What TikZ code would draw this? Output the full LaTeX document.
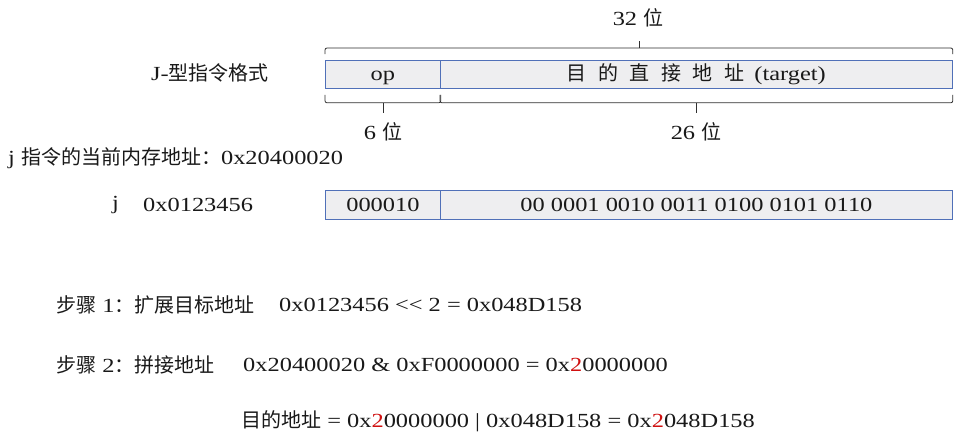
\documentclass[tikz,border=0pt]{standalone}
\usepackage{fontspec}
\usetikzlibrary{calc}
\setmainfont{Liberation Serif}[FakeStretch=1.22]
\newfontfamily\cjk{Noto Sans CJK SC}
\definecolor{boxfill}{HTML}{EEEEF0}
\definecolor{boxline}{HTML}{5070B8}
\definecolor{redtxt}{HTML}{D01010}
\definecolor{braceline}{HTML}{303030}
\tikzset{
  txt/.style={inner sep=0pt, font=\fontsize{20}{24}\selectfont, text=black!90},
  field/.style={draw=boxline, fill=boxfill, line width=0.8pt, minimum height=28pt, inner sep=0pt, text height=15pt, text depth=2pt, anchor=north west, font=\fontsize{20}{24}\selectfont, text=black!90},
  brace/.style={draw=braceline, line width=0.8pt, rounded corners=2pt},
}
\newcommand{\rd}[1]{{\color{redtxt}#1}}
\newcommand{\cg}{\hspace{11.5pt}}
\begin{document}
\begin{tikzpicture}[x=1pt,y=-1pt]
\fill[white] (0,0) rectangle (957,431);
\useasboundingbox (0,0) rectangle (957,431);

% format row
\node[field, minimum width=115pt] (op) at (325,60) {op};
\node[field, minimum width=512pt] (tg) at (440,60) {{\cjk 目\cg 的\cg 直\cg 接\cg 地\cg 址}\hspace{10pt}(target)};
\node[txt] (fmt) at (210,73) {J-{\cjk 型指令格式}};

% top brace
\coordinate (tl) at ([yshift=12pt]op.north west);
\coordinate (tr) at ([yshift=12pt]tg.north east);
\draw[brace] ([yshift=6pt]op.north west) -- (tl) -- (tr) -- ([yshift=6pt]tg.north east);
\coordinate (tc) at ($(tl)!0.5!(tr)$);
\draw[brace] (tc) -- ++(0,-7);
\node[txt] (b32) at (638,18) {32 {\cjk 位}};

% bottom braces
\draw[brace] ([yshift=-6pt]op.south west) -- ([yshift=-14pt]op.south west) -- ([yshift=-14pt]op.south east) -- ([yshift=-6pt]op.south east);
\draw[brace] ([yshift=-6pt]tg.south west) -- ([yshift=-14pt]tg.south west) -- ([yshift=-14pt]tg.south east) -- ([yshift=-6pt]tg.south east);
\draw[brace] ([yshift=-14pt]op.south) -- ++(0,10);
\draw[brace] ([yshift=-14pt]tg.south) -- ++(0,10);
\node[txt] (b6) at (383,132) {6 {\cjk 位}};
\node[txt] (b26) at (696,132) {26 {\cjk 位}};

% current address
\node[txt, anchor=west] (cur) at (8,158) {j {\cjk 指令的当前内存地址：}0x20400020};
\node[txt, anchor=west] (jj) at (112,205) {j};
\node[txt, anchor=west] (jimm) at (143,205) {0x0123456};

% encoded instruction
\node[field, minimum width=115pt, minimum height=29pt] (op2) at (325,190) {000010};
\node[field, minimum width=512pt, minimum height=29pt] (tg2) at (440,190) {00 0001 0010 0011 0100 0101 0110};

% steps
\node[txt, anchor=west] (s1) at (56,305) {{\cjk 步骤} 1{\cjk ：扩展目标地址}};
\node[txt, anchor=west] (s1e) at (279,305) {0x0123456 <{}< 2 = 0x048D158};
\node[txt, anchor=west] (s2) at (56,365) {{\cjk 步骤} 2{\cjk ：拼接地址}};
\node[txt, anchor=west] (s2e) at (243,365) {0x20400020 \& 0xF0000000 = 0x\rd{2}0000000};
\node[txt, anchor=west] (fin) at (241,421) {{\cjk 目的地址} = 0x\rd{2}0000000 | 0x048D158 = 0x\rd{2}048D158};
\end{tikzpicture}
\end{document}
